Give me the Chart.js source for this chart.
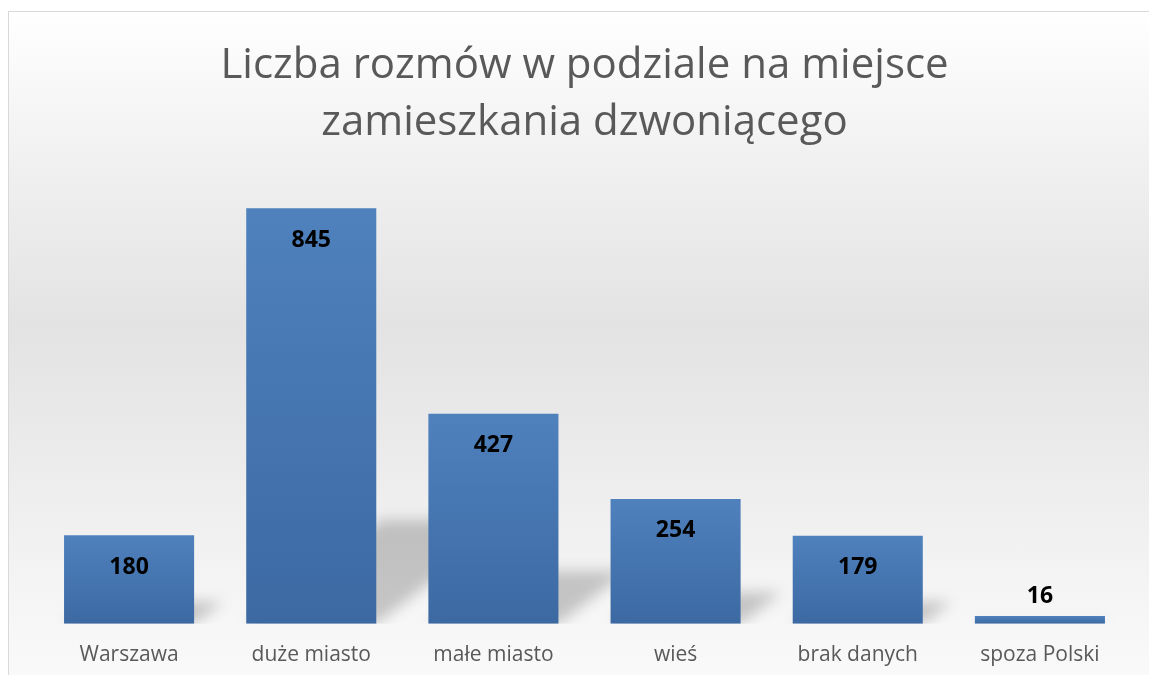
<!DOCTYPE html>
<html lang="pl">
<head>
  <meta charset="UTF-8" />
  <title>Liczba rozmów</title>
  <script src="https://cdn.jsdelivr.net/npm/chart.js"></script>
  <style>
    body {
      margin: 0;
      background: #fff;
      font-family: 'Open Sans', sans-serif;
      overflow: hidden;
    }
    .ramka {
      position: absolute;
      left: 8px;
      top: 11px;
      width: 1160px;
      height: 700px;
      border: 1px solid #d9d9d9;
      background: linear-gradient(to bottom, #ffffff 0%, #f0f0f0 22%, #e3e3e3 45%, #ececec 65%, #f7f7f7 88%, #fbfbfb 100%);
    }
    .wykres {
      position: absolute;
      left: 0;
      top: 0;
      width: 1149px;
      height: 675px;
    }
  </style>
</head>
<body>

<div class="ramka"></div>
<div class="wykres">
  <canvas id="graficoRozmowy"></canvas>
</div>

<script>
  const kategorie = ['Warszawa', 'duże miasto', 'małe miasto', 'wieś', 'brak danych', 'spoza Polski'];
  const rozmowy = [180, 845, 427, 254, 179, 16];
  const tytul = ['Liczba rozmów w podziale na miejsce', 'zamieszkania dzwoniącego'];

  // gradient w każdym słupku (jaśniej u góry)
  function kolorSlupka(ctx) {
    const chart = ctx.chart;
    if (!chart.chartArea || ctx.type !== 'data') return '#4a7ab5';
    const y = chart.scales.y.getPixelForValue(ctx.raw);
    const base = chart.scales.y.getPixelForValue(0);
    const g = chart.ctx.createLinearGradient(0, y, 0, base);
    g.addColorStop(0, '#4f81bd');
    g.addColorStop(1, '#3c69a2');
    return g;
  }

  // cień padający za słupkami
  const cienPlugin = {
    id: 'cien',
    beforeDatasetsDraw(chart) {
      const ctx = chart.ctx;
      const meta = chart.getDatasetMeta(0);
      ctx.save();
      ctx.beginPath();
      ctx.rect(0, 0, chart.width, chart.scales.y.getPixelForValue(0));
      ctx.clip();
      ctx.filter = 'blur(7px)';
      ctx.fillStyle = 'rgba(0, 0, 0, 0.2)';
      meta.data.forEach(bar => {
        const h = bar.base - bar.y;
        const rise = h * 0.25;
        const dx = rise * 1.3;
        const l = bar.x - bar.width / 2;
        const r = bar.x + bar.width / 2;
        ctx.beginPath();
        ctx.moveTo(l, bar.base);
        ctx.lineTo(r, bar.base);
        ctx.lineTo(r + dx, bar.base - rise);
        ctx.lineTo(l + dx, bar.base - rise);
        ctx.closePath();
        ctx.fill();
      });
      ctx.restore();
    }
  };

  // etykiety wartości
  const etykietyPlugin = {
    id: 'etykiety',
    afterDatasetsDraw(chart) {
      const ctx = chart.ctx;
      const meta = chart.getDatasetMeta(0);
      ctx.save();
      ctx.font = 'bold 23px "Open Sans", sans-serif';
      ctx.fillStyle = '#000';
      ctx.textAlign = 'center';
      ctx.textBaseline = 'middle';
      meta.data.forEach((bar, i) => {
        const h = bar.base - bar.y;
        const y = h > 45 ? bar.y + 32 : bar.y - 19;
        ctx.fillText(rozmowy[i], bar.x, y);
      });
      ctx.restore();
    }
  };

  new Chart(document.getElementById('graficoRozmowy').getContext('2d'), {
    type: 'bar',
    data: {
      labels: kategorie,
      datasets: [{
        label: 'Liczba rozmów',
        data: rozmowy,
        backgroundColor: kolorSlupka,
        barPercentage: 0.714,
        categoryPercentage: 1
      }]
    },
    options: {
      responsive: true,
      maintainAspectRatio: false,
      animation: false,
      layout: {
        padding: { left: 38, right: 18, top: 0, bottom: -4 }
      },
      plugins: {
        legend: { display: false },
        tooltip: { enabled: false },
        title: {
          display: true,
          text: tytul,
          color: '#595959',
          font: { family: 'Open Sans', size: 42, weight: 'normal', lineHeight: 1.36 },
          padding: { top: 37, bottom: 30 }
        }
      },
      scales: {
        x: {
          grid: { display: false },
          border: { display: false },
          ticks: {
            color: '#595959',
            font: { family: 'Open Sans', size: 21 },
            padding: 11
          }
        },
        y: {
          display: false,
          min: 0,
          max: 900
        }
      }
    },
    plugins: [cienPlugin, etykietyPlugin]
  });
</script>

</body>
</html>
